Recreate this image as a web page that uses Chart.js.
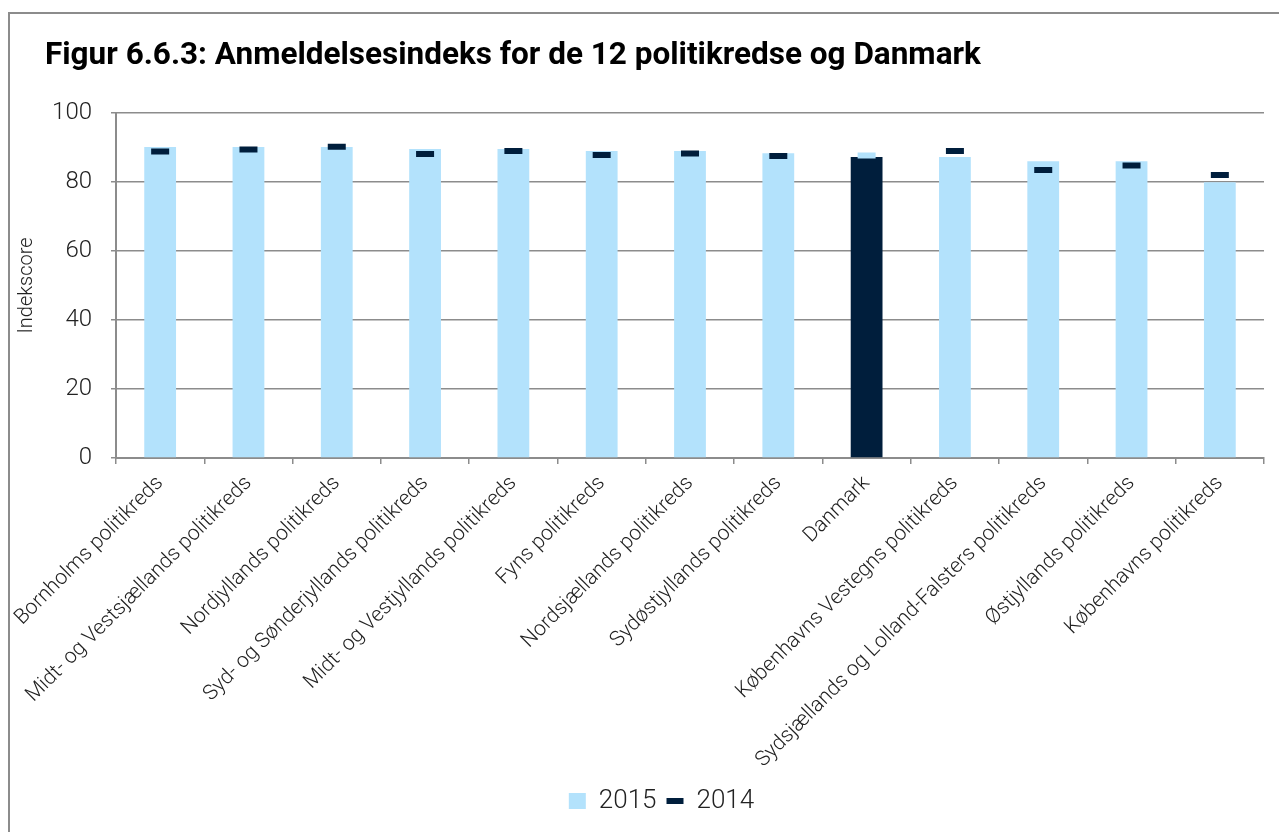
<!DOCTYPE html>
<html>
<head>
<meta charset="utf-8">
<script src="https://cdn.jsdelivr.net/npm/chart.js@4.4.1/dist/chart.umd.min.js"></script>
<style>
  html, body { margin: 0; padding: 0; background: #fff; overflow: hidden; }
  #frame { position: absolute; left: 8px; top: 12px; width: 1400px; height: 1000px; border-left: 2px solid #8c8c8c; border-top: 2px solid #8c8c8c; }
  #wrap { position: absolute; left: 0; top: 0; width: 1279px; height: 832px; }
</style>
</head>
<body>
<div id="frame"></div>
<div id="wrap"><canvas id="c"></canvas></div>
<script>
const titleText = 'Figur 6.6.3: Anmeldelsesindeks for de 12 politikredse og Danmark';
const yAxisTitle = 'Indekscore';
const categories = [
  'Bornholms politikreds',
  'Midt- og Vestsjællands politikreds',
  'Nordjyllands politikreds',
  'Syd- og Sønderjyllands politikreds',
  'Midt- og Vestjyllands politikreds',
  'Fyns politikreds',
  'Nordsjællands politikreds',
  'Sydøstjyllands politikreds',
  'Danmark',
  'Københavns Vestegns politikreds',
  'Sydsjællands og Lolland-Falsters politikreds',
  'Østjyllands politikreds',
  'Københavns politikreds'
];
const seriesNames = ['2015', '2014'];
const values2015 = [90.1, 90.1, 90.1, 89.5, 89.5, 88.9, 88.9, 88.3, 87.2, 87.2, 86.0, 86.0, 79.9];
const values2014 = [88.8, 89.4, 90.2, 88.1, 88.9, 87.8, 88.2, 87.5, 87.6, 88.9, 83.4, 84.7, 82.0];
const yTicks = [0, 20, 40, 60, 80, 100];

const LIGHT = '#B3E2FC';
const NAVY = '#001E3C';
const GRID = '#8c8c8c';
const TEXT = '#222222';
const highlight = 'Danmark';

const barColors = categories.map(c => c === highlight ? NAVY : LIGHT);
const markColors = categories.map(c => c === highlight ? LIGHT : NAVY);

Chart.defaults.font.family = 'Roboto, "Liberation Sans", sans-serif';
Chart.defaults.color = TEXT;

new Chart(document.getElementById('c'), {
  data: {
    labels: categories,
    datasets: [
      {
        type: 'bar',
        label: seriesNames[0],
        data: values2015,
        backgroundColor: barColors,
        borderWidth: 0,
        barPercentage: 0.36,
        categoryPercentage: 1.0,
        order: 2
      },
      {
        type: 'line',
        label: seriesNames[1],
        data: values2014,
        showLine: false,
        pointStyle: 'line',
        pointRadius: 9,
        pointHoverRadius: 9,
        pointBorderWidth: 6,
        pointHoverBorderWidth: 6,
        borderColor: markColors,
        pointBorderColor: markColors,
        backgroundColor: markColors,
        order: 1
      }
    ]
  },
  options: {
    responsive: true,
    maintainAspectRatio: false,
    animation: false,
    events: [],
    layout: { padding: { left: 45, right: 1, top: 0, bottom: 8 } },
    plugins: {
      tooltip: { enabled: false },
      title: {
        display: true,
        text: titleText,
        align: 'start',
        color: '#000',
        font: { size: 31.5, weight: 'bold', family: 'Roboto, "Liberation Sans", sans-serif' },
        padding: { top: 37, bottom: 38 }
      },
      legend: {
        display: true,
        position: 'bottom',
        labels: {
          usePointStyle: true,
          boxWidth: 16,
          boxHeight: 16,
          pointStyleWidth: 17,
          padding: 10,
          color: TEXT,
          font: { size: 26, weight: '300' },
          generateLabels: () => [
            { text: seriesNames[0], fillStyle: LIGHT, strokeStyle: LIGHT, lineWidth: 0, pointStyle: 'rect', datasetIndex: 0, fontColor: TEXT },
            { text: seriesNames[1], fillStyle: NAVY, strokeStyle: NAVY, lineWidth: 6, pointStyle: 'line', datasetIndex: 1, fontColor: TEXT }
          ]
        }
      }
    },
    scales: {
      x: {
        type: 'category',
        offset: true,
        afterFit: s => { s.height = 320; },
        grid: { display: true, drawOnChartArea: false, drawTicks: true, tickLength: 6, color: GRID, lineWidth: 1.5, offset: true },
        border: { display: true, color: GRID, width: 2 },
        ticks: {
          autoSkip: false,
          minRotation: 45,
          maxRotation: 45,
          padding: 7,
          color: TEXT,
          font: { size: 21, weight: '300' }
        }
      },
      y: {
        min: 0,
        max: 100,
        afterFit: s => { s.width = 116 - 45; },
        afterBuildTicks: s => { s.ticks = yTicks.map(v => ({ value: v })); },
        grid: { color: GRID, lineWidth: 1.5, tickLength: 5, drawTicks: true },
        border: { display: true, color: GRID, width: 2 },
        ticks: { padding: 19, color: TEXT, font: { size: 24, weight: '300' } },
        title: {
          display: true,
          text: yAxisTitle,
          color: TEXT,
          font: { size: 20, weight: '300' },
          padding: { top: -30, bottom: 0 }
        }
      }
    }
  }
});
</script>
</body>
</html>
